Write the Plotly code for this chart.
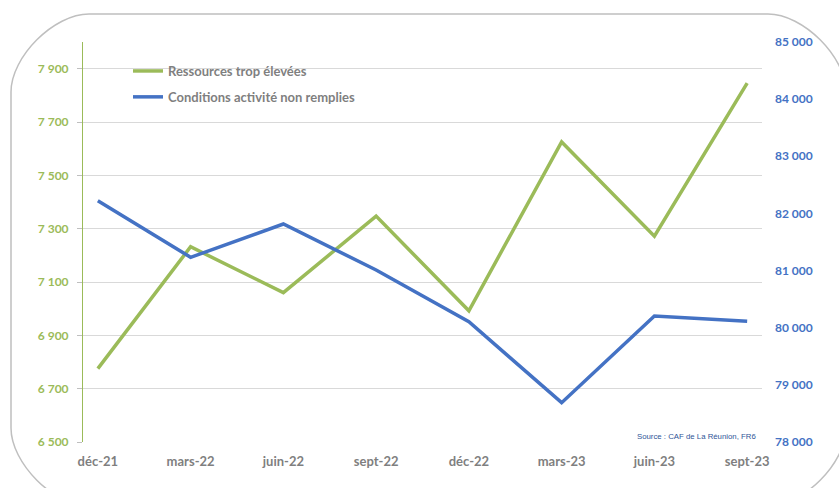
import plotly.graph_objects as go

periods = ["déc-21", "mars-22", "juin-22", "sept-22", "déc-22", "mars-23", "juin-23", "sept-23"]
ressources = [6775, 7232, 7060, 7347, 6992, 7625, 7272, 7846]
conditions = [82223, 81232, 81815, 81010, 80106, 78688, 80205, 80112]

left_ticks = [6500, 6700, 6900, 7100, 7300, 7500, 7700, 7900]
right_ticks = [78000, 79000, 80000, 81000, 82000, 83000, 84000, 85000]

GREEN = "#9bbb59"
BLUE = "#4472c4"
GREY = "#7f7f7f"
FONT = "Lato"

# plot area in pixels
L, R, T, B = 83, 762, 42, 442
W, H = 839, 488


def px(x):
    return (x - L) / (R - L)


def py(y):
    return (B - y) / (B - T)


def rounded_box(x0, y0, x1, y1, r):
    k = 0.45 * r
    pts = [
        f"M {px(x0)},{py(y0 + r)}",
        f"C {px(x0)},{py(y0 + r - k)} {px(x0 + r - k)},{py(y0)} {px(x0 + r)},{py(y0)}",
        f"L {px(x1 - r)},{py(y0)}",
        f"C {px(x1 - r + k)},{py(y0)} {px(x1)},{py(y0 + r - k)} {px(x1)},{py(y0 + r)}",
        f"L {px(x1)},{py(y1 - r)}",
        f"C {px(x1)},{py(y1 - r + k)} {px(x1 - r + k)},{py(y1)} {px(x1 - r)},{py(y1)}",
        f"L {px(x0 + r)},{py(y1)}",
        f"C {px(x0 + r - k)},{py(y1)} {px(x0)},{py(y1 - r + k)} {px(x0)},{py(y1 - r)}",
        "Z",
    ]
    return " ".join(pts)


fig = go.Figure()

fig.add_trace(
    go.Scatter(
        x=periods,
        y=ressources,
        name="Ressources trop élevées",
        legendgroup="a",
        mode="lines",
        line=dict(color=GREEN, width=3.5),
        yaxis="y",
    )
)
fig.add_trace(
    go.Scatter(
        x=periods,
        y=conditions,
        name="Conditions activité non remplies",
        legendgroup="b",
        mode="lines",
        line=dict(color=BLUE, width=3.5),
        yaxis="y2",
    )
)

fig.add_shape(
    type="path",
    path=rounded_box(11, 14, 846, 506, 78),
    xref="paper",
    yref="paper",
    line=dict(color="#bfbfbf", width=1.5),
    layer="below",
)
# white box behind the legend, hiding the gridline
fig.add_shape(
    type="rect",
    xref="paper",
    yref="paper",
    x0=px(95),
    x1=px(402),
    y0=py(110),
    y1=py(56),
    fillcolor="white",
    line=dict(width=0),
    layer="between",
)

fig.add_annotation(
    text="Source : CAF de La Réunion, FR6",
    xref="paper",
    yref="paper",
    x=px(758),
    y=py(443),
    xanchor="right",
    yanchor="bottom",
    showarrow=False,
    font=dict(family="Liberation Sans", size=7.8, color="#2f5597"),
)

fig.update_layout(
    width=W,
    height=H,
    margin=dict(l=L, r=W - R, t=T, b=H - B, pad=0),
    plot_bgcolor="white",
    paper_bgcolor="white",
    separators=", ",
    showlegend=True,
    legend=dict(
        x=px(128),
        y=py(56),
        xanchor="left",
        yanchor="top",
        bgcolor="rgba(0,0,0,0)",
        font=dict(family=FONT, size=13, color=GREY, weight="bold"),
        itemwidth=30,
        tracegroupgap=6,
    ),
    xaxis=dict(
        type="category",
        range=[-0.16, 7.16],
        showgrid=False,
        zeroline=False,
        showline=False,
        ticks="",
        tickfont=dict(family=FONT, size=13, color=GREY, weight="bold"),
        ticklabelstandoff=10,
    ),
    yaxis=dict(
        range=[6500, 8000],
        tickvals=left_ticks,
        tickformat=",d",
        showgrid=True,
        gridcolor="#d9d9d9",
        gridwidth=1,
        zeroline=False,
        showline=True,
        linecolor=GREEN,
        linewidth=1,
        ticks="outside",
        ticklen=5,
        tickcolor="#bfbfbf",
        ticklabelstandoff=6,
        tickfont=dict(family=FONT, size=12, color=GREEN, weight="bold"),
    ),
    yaxis2=dict(
        range=[78000, 85000],
        tickvals=right_ticks,
        tickformat=",d",
        overlaying="y",
        side="right",
        showgrid=False,
        zeroline=False,
        showline=False,
        ticks="",
        ticklabelstandoff=12,
        tickfont=dict(family=FONT, size=12, color=BLUE, weight="bold"),
    ),
)

fig.write_html(
    "out.html",
    config={"displayModeBar": False},
    post_script="document.body.style.margin = '0';",
)
